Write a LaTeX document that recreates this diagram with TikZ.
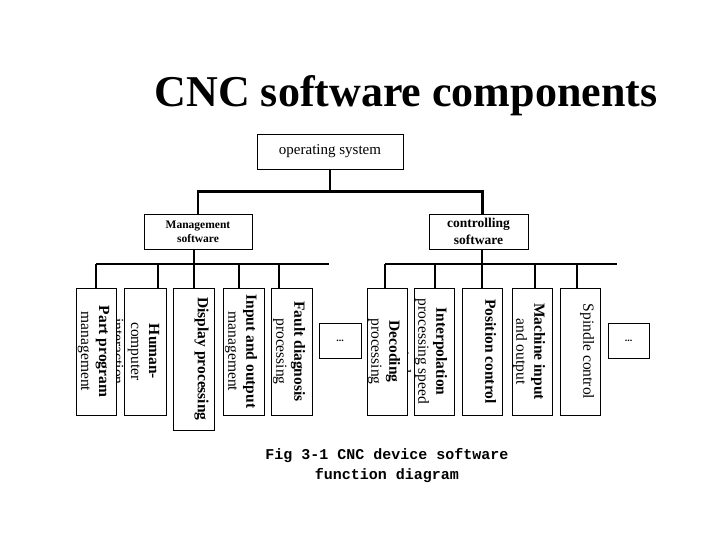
\documentclass[tikz,border=0pt]{standalone}
\usepackage{fontspec}
\setmainfont{Liberation Serif}
\newfontfamily\capfont{Liberation Mono}
\usepackage{tikz}
\usetikzlibrary{positioning,calc}
\newcommand\leaffont{\fontsize{15.5}{18}\selectfont}
\tikzset{
  heading/.style={
    anchor=base,
    font=\fontsize{44}{48}\selectfont\bfseries
  },
  rootbox/.style={
    draw,
    line width=0.8pt,
    minimum width=146pt,
    minimum height=35pt,
    inner sep=0pt,
    font=\fontsize{15}{18}\selectfont
  },
  midbox/.style={
    draw,
    line width=0.8pt,
    minimum height=35pt,
    inner sep=0pt,
    align=center,
    font=\bfseries
  },
  leaf/.style={
    draw,
    fill=white,
    line width=0.8pt,
    minimum width=41pt,
    minimum height=127pt,
    inner sep=0pt
  },
  leaftext/.style={
    rotate=-90,
    anchor=north,
    align=center,
    inner sep=0pt,
    font=\leaffont
  },
  dotbox/.style={
    draw,
    line width=0.8pt,
    minimum width=42pt,
    minimum height=35pt,
    inner sep=0pt,
    font=\normalsize\bfseries
  },
  link/.style={line width=2.8pt}
}

\begin{document}
\begin{tikzpicture}[x=1pt,y=-1pt]
        \useasboundingbox (0,0) rectangle (720,540);

        \node[heading] (title) at (406,107) {CNC software components};

        \node[rootbox] (os) at (330,151.5) {operating system};
        \node[midbox,minimum width=108pt,font=\fontsize{11.5}{14}\selectfont\bfseries] (mgmt) at (198,231.5) {Management\\software};
        \node[midbox,minimum width=99pt,font=\fontsize{13.5}{17}\selectfont\bfseries] (ctrl) at (478.5,231.5) {controlling\\software};

        % management branch, drawn right to left
        \node[leaf] (b5) at (291.5,351.5) {};
        \node[leaftext] (t5) at ([xshift=-7pt]b5.east) {\textbf{Fault diagnosis}\\processing};
        \node[leaf] (b4) at (243.5,351.5) {};
        \node[leaftext] (t4) at ([xshift=-7pt]b4.east) {\textbf{Input and output}\\management};
        \node[leaf,minimum height=142pt] (b3) at (194,359) {};
        \node[leaftext] (t3) at ([xshift=-6pt]b3.east) {\textbf{Display processing}};
        \node[leaf,minimum width=42pt] (b2) at (145,351.5) {};
        \node[leaftext] (t2) at ([xshift=-7pt]b2.east) {\textbf{Human-}\\computer\\interaction};
        \node[leaf,minimum width=40pt] (b1) at (96,351.5) {};
        \node[leaftext] (t1) at ([xshift=-7pt]b1.east) {\textbf{Part program}\\management};
        \node[dotbox] (ldots) at (340,340.5) {...};

        % controlling branch, drawn right to left
        \node[leaf,minimum width=40pt] (c5) at (580,351.5) {};
        \node[leaftext] (s5) at ([xshift=-6pt]c5.east) {Spindle control};
        \node[leaf,minimum width=40pt] (c4) at (532,351.5) {};
        \node[leaftext] (s4) at ([xshift=-7pt]c4.east) {\textbf{Machine input}\\and output};
        \node[leaf,minimum width=40pt] (c3) at (482,351.5) {};
        \node[leaftext] (s3) at ([xshift=-6pt]c3.east) {\textbf{Position control}};
        \node[leaf,minimum width=40pt] (c2) at (434,351.5) {};
        \node[leaftext] (s2) at ([xshift=-7pt]c2.east) {\textbf{Interpolation}\\processing speed\\control};
        \node[leaf,minimum width=40pt] (c1) at (387,351.5) {};
        \node[leaftext] (s1) at ([xshift=-7pt]c1.east) {\textbf{Decoding}\\processing};
        \node[dotbox,minimum width=41pt] (rdots) at (628.5,340.5) {...};

        \node[font=\capfont\bfseries\fontsize{15}{20}\selectfont,align=center] (caption) at (387,466) {Fig 3-1 CNC device software\\function diagram};

        \draw[link] (os.south) -- ++(0,22) -| (mgmt.north);
        \draw[link] (os.south) ++(0,22) -| ([xshift=4pt]ctrl.north);

        \coordinate (mbusW) at (96,264);
        \coordinate (mbusE) at (329,264);
        \draw[link] (mbusW) -- (mbusE);
        \draw[link] ([xshift=-4pt]mgmt.south) -- (b3.north);
        \draw[link] (b1.north) -- (b1.north |- mbusW);
        \draw[link] ([xshift=13pt]b2.north) -- ([xshift=13pt]b2.north |- mbusW);
        \draw[link] ([xshift=-4.5pt]b4.north) -- ([xshift=-4.5pt]b4.north |- mbusW);
        \draw[link] ([xshift=-12.5pt]b5.north) -- ([xshift=-12.5pt]b5.north |- mbusW);

        \coordinate (cbusW) at (385,264);
        \coordinate (cbusE) at (617,264);
        \draw[link] (cbusW) -- (cbusE);
        \draw[link] ([xshift=3.5pt]ctrl.south) -- (c3.north);
        \draw[link] ([xshift=-2pt]c1.north) -- ([xshift=-2pt]c1.north |- cbusW);
        \draw[link] ([xshift=1pt]c2.north) -- ([xshift=1pt]c2.north |- cbusW);
        \draw[link] ([xshift=3pt]c4.north) -- ([xshift=3pt]c4.north |- cbusW);
        \draw[link] ([xshift=-3pt]c5.north) -- ([xshift=-3pt]c5.north |- cbusW);
      \end{tikzpicture}
\end{document}
